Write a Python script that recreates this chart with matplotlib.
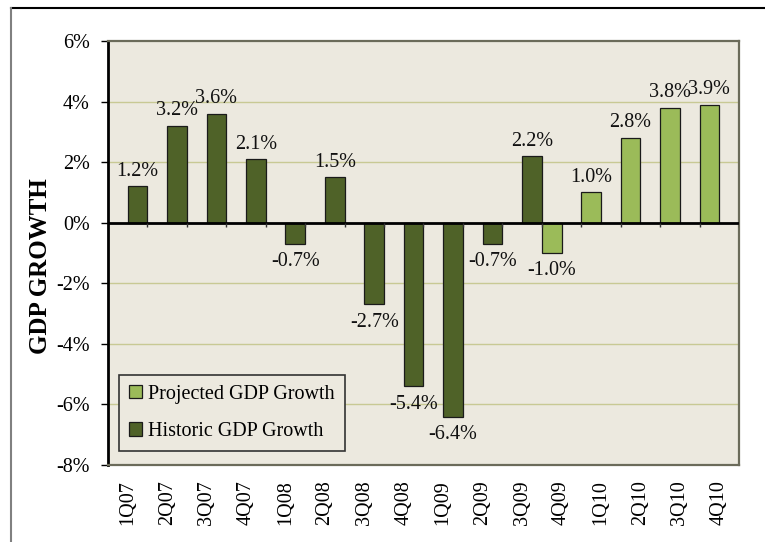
import numpy as np
import matplotlib
matplotlib.use("Agg")
import matplotlib.pyplot as plt
from matplotlib.lines import Line2D
from matplotlib.ticker import FuncFormatter

quarters = ['1Q07', '2Q07', '3Q07', '4Q07', '1Q08', '2Q08', '3Q08', '4Q08',
            '1Q09', '2Q09', '3Q09', '4Q09', '1Q10', '2Q10', '3Q10', '4Q10']
historic = [1.2, 3.2, 3.6, 2.1, -0.7, 1.5, -2.7, -5.4, -6.4, -0.7, 2.2,
            None, None, None, None, None]
projected = [None, None, None, None, None, None, None, None, None, None, None,
             -1.0, 1.0, 2.8, 3.8, 3.9]

plt.rcParams['font.family'] = ['Liberation Serif', 'DejaVu Serif']

bg = '#ECE9DF'
dark = '#4F6228'
light = '#9BBB59'
fs = 14.5

fig = plt.figure(figsize=(7.65, 5.42), dpi=100)
ax = fig.add_axes([108 / 765, 1 - 465 / 542, 631 / 765, 424 / 542])
ax.set_facecolor(bg)

x = np.arange(len(quarters))
w = 0.5

# projected on the left half of each slot, historic on the right half
px = [i - w / 2 for i, v in zip(x, projected) if v is not None]
pv = [v for v in projected if v is not None]
hx = [i + w / 2 for i, v in zip(x, historic) if v is not None]
hv = [v for v in historic if v is not None]

ax.bar(px, pv, width=w, color=light, edgecolor='#1a1a1a', linewidth=0.9,
       label='Projected GDP Growth', zorder=3)
ax.bar(hx, hv, width=w, color=dark, edgecolor='#1a1a1a', linewidth=0.9,
       label='Historic GDP Growth', zorder=3)

for xs, vs in [(px, pv), (hx, hv)]:
    for xi, v in zip(xs, vs):
        if v >= 0:
            ax.annotate(f'{v:.1f}%', (xi, v), xytext=(0, 4), textcoords='offset points',
                        ha='center', va='bottom', fontsize=fs, color='#111111')
        else:
            ax.annotate(f'{v:.1f}%', (xi, v), xytext=(0, -6), textcoords='offset points',
                        ha='center', va='top', fontsize=fs, color='#111111')

ax.set_xlim(-0.5, len(quarters) - 0.5)
ax.set_ylim(-8, 6)
ax.set_yticks(np.arange(-8, 7, 2))
ax.yaxis.set_major_formatter(FuncFormatter(lambda v, p: f'{v:.0f}%'))
ax.tick_params(axis='y', labelsize=fs, length=5, width=1, direction='out', pad=8)
ax.set_xticks(x)
ax.set_xticklabels(quarters, rotation=90, fontsize=fs)
ax.tick_params(axis='x', length=0, pad=11)

for g in [-6, -4, -2, 2, 4]:
    ax.axhline(g, color='#C8C994', linewidth=1, zorder=1)
ax.axhline(0, color='black', linewidth=2, zorder=4)
ax.vlines(np.arange(0.5, len(quarters), 1), -0.15, 0, color='#333333', linewidth=1, zorder=4)

ax.spines['left'].set_color('black')
ax.spines['left'].set_linewidth(2)
for s in ['top', 'right', 'bottom']:
    ax.spines[s].set_color('#6b6b5a')
    ax.spines[s].set_linewidth(1.6)

leg = ax.legend(loc='lower left', bbox_to_anchor=(0.017, 0.033), fontsize=fs,
                frameon=True, fancybox=False, facecolor=bg, edgecolor='#333333',
                handlelength=0.65, handleheight=0.65, handletextpad=0.3,
                labelspacing=0.9, borderpad=0.5, borderaxespad=0)
leg.get_frame().set_linewidth(1.2)
leg.get_frame().set_alpha(1)

fig.text(41 / 765, 1 - 266 / 542, 'GDP GROWTH', rotation=90, fontsize=18,
         fontweight='bold', ha='center', va='center')

# outer frame
fig.add_artist(Line2D([11 / 765, 1], [1 - 8 / 542, 1 - 8 / 542], transform=fig.transFigure,
                      color='black', linewidth=1.5))
fig.add_artist(Line2D([11 / 765, 11 / 765], [0, 1 - 8 / 542], transform=fig.transFigure,
                      color='#808080', linewidth=1.5))

fig.savefig('out.png', dpi=100)
